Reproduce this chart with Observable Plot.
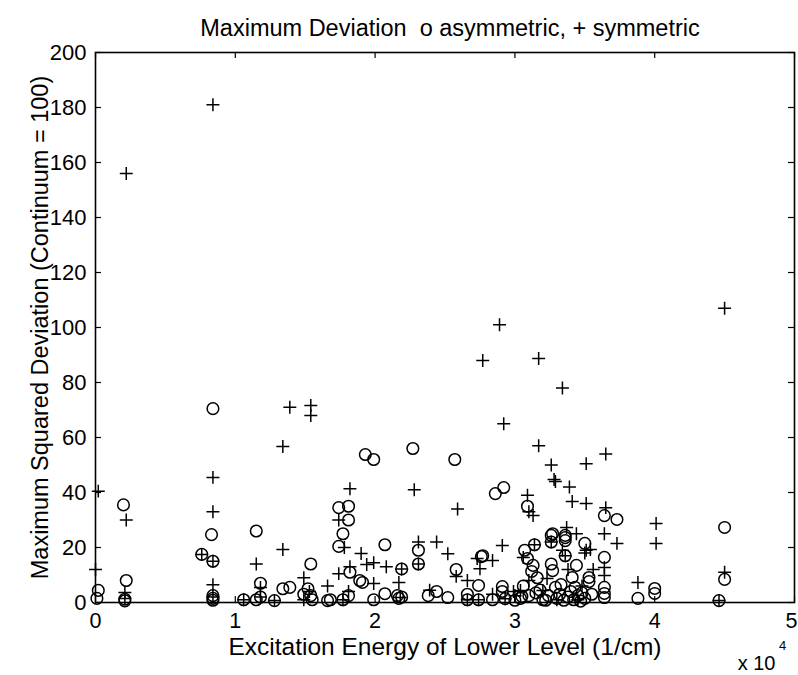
<!DOCTYPE html>
<html>
<head>
<meta charset="utf-8">
<script src="https://cdn.jsdelivr.net/npm/d3@7"></script>
<script src="https://cdn.jsdelivr.net/npm/@observablehq/plot@0.6"></script>
<style>
  html, body { margin: 0; padding: 0; background: #fff; }
  #chart svg { display: block; }
</style>
</head>
<body>
<div id="chart"></div>
<script>
// Excitation energy (units of 1e4 1/cm) and max squared deviation, asymmetric lines (o)
const asymX = [0.01,0.02,0.20,0.22,0.21,0.21,0.76,0.83,0.84,0.84,0.84,0.84,0.84,1.06,1.15,1.15,1.18,1.18,1.28,1.34,
  1.39,1.49,1.52,1.54,1.55,1.54,1.66,1.68,1.74,1.81,1.81,1.77,1.74,1.82,1.77,1.81,1.89,1.91,1.93,1.99,
  1.99,2.07,2.07,2.16,2.17,2.19,2.19,2.27,2.31,2.31,2.38,2.44,2.52,2.57,2.58,2.66,2.66,2.74,2.74,2.76,
  2.84,2.86,2.92,2.91,2.91,2.93,3.00,3.04,3.07,3.09,3.09,3.13,3.12,3.16,3.14,3.10,3.15,3.20,3.24,3.26,
  3.26,3.26,3.27,3.29,3.36,3.36,3.36,3.41,3.44,3.30,3.32,3.35,3.38,3.40,3.42,3.45,3.47,3.50,3.50,3.53,
  3.53,3.55,3.64,3.73,3.64,3.64,3.64,3.64,3.88,4.00,4.00,4.50,4.50,4.46,3.27,3.36,2.77,3.06,3.22,3.33,
  3.43,3.48,3.18,3.05];
const asymY = [1.5,4.4,35.5,8,1.2,0.6,17.5,24.7,70.5,15,2.5,1.5,0.8,1,26,1,7,2,0.7,5,
  5.5,3,5,14,1,2.5,0.7,1,34.5,35,30,25,20.4,11,1,2.5,8,7.3,53.8,52,
  1,21,3.2,2.5,1.5,2,12.2,56,19,14,2.5,4,1.8,52,12,3,1,6.2,1,16.7,
  1,39.6,41.8,5.8,4,1.4,0.8,1.5,19,35,16,13.5,11.3,9,21,2.5,3.5,1,2.5,24.4,
  22,14,11.6,5.5,24.4,22.5,17,9.1,13.5,1.5,3,0.8,2,4,1,2.5,0.5,21.5,1.5,9.1,
  7.6,3,31.6,30.2,16.4,5.5,3.3,1.8,1.5,5.1,3.3,27.3,8.4,0.7,25,23.6,17,6,0.8,6.5,
  5.5,3.5,4.5,2.2];

// symmetric lines (+)
const symX = [0.02,0.00,0.22,0.22,0.21,0.21,0.76,0.84,0.84,0.84,0.84,0.84,0.84,1.06,1.15,1.18,1.18,1.28,1.34,1.34,
  1.39,1.54,1.54,1.49,1.49,1.53,1.66,1.74,1.78,1.74,1.77,1.82,1.82,1.81,1.90,1.94,1.99,1.99,2.08,2.19,
  2.17,2.18,2.28,2.31,2.31,2.39,2.44,2.52,2.58,2.59,2.66,2.66,2.73,2.75,2.74,2.77,2.84,2.84,2.89,2.91,
  2.92,2.93,2.99,3.04,3.00,3.06,3.09,3.10,3.10,3.13,3.14,3.17,3.17,3.23,3.26,3.26,3.28,3.29,3.34,3.34,
  3.36,3.37,3.39,3.41,3.44,3.38,3.51,3.51,3.51,3.54,3.50,3.65,3.65,3.64,3.64,3.64,3.73,3.88,4.01,4.01,
  4.50,4.50,4.46,3.30,3.45,3.20,3.56,3.48];
const symY = [40.5,12,156,30,3.6,1.5,17.5,181,45.5,33,15,6.5,2,1,14,5.5,2,0.7,19.3,56.7,
  71,71.6,68,9,1,4,6,30,20,10.5,1,41.4,13,4,17.8,13.8,14.5,6.9,13,12.2,
  7.3,1.8,41,22,14,4.5,22,17.7,9.5,34,8,1,16,12.3,1,88,15.3,3,101,20.7,
  65,1.4,4,4.4,2.5,16.4,39,33,8,31.6,21,88.7,57,8.7,50,22,44.7,44,78,19,
  17,27.3,42,36.7,25,12,36,19,50.5,19.3,18,54,34.5,25,12.7,9.8,21.5,7.3,28.7,21.5,
  107,11,0.7,1,1,4.4,12,6];

const xTicks = [0, 1, 2, 3, 4, 5];
const yTicks = [0, 20, 40, 60, 80, 100, 120, 140, 160, 180, 200];

const titleText = "Maximum Deviation  o asymmetric, + symmetric";
const xLabel = "Excitation Energy of Lower Level (1/cm)";
const yLabel = "Maximum Squared Deviation (Continuum = 100)";
const expBase = "x 10";
const expPow = "4";

const asym = asymX.map((x, i) => ({x, y: asymY[i]}));
const sym = symX.map((x, i) => ({x, y: symY[i]}));

const W = 798, H = 675, mL = 95, mR = 4, mT = 52, mB = 73;
const pw = W - mL - mR, ph = H - mT - mB;
const tk = 6;
const lastX = xTicks[xTicks.length - 1];

const chart = Plot.plot({
  width: W, height: H,
  marginLeft: mL, marginRight: mR, marginTop: mT, marginBottom: mB,
  x: {domain: [0, 5]},
  y: {domain: [0, 200]},
  style: {fontFamily: "'Liberation Sans', Arial, Helvetica, sans-serif", fontSize: "22px", background: "white", color: "black"},
  marks: [
    Plot.axisX(xTicks.filter(d => d !== lastX), {tickSize: 0, tickPadding: 10, label: null, fontSize: 21.5, tickFormat: d => String(d)}),
    Plot.axisX([lastX], {tickSize: 0, tickPadding: 10, label: null, fontSize: 21.5, dx: -3, tickFormat: d => String(d)}),
    Plot.axisY(yTicks, {tickSize: 0, tickPadding: 9, label: null, fontSize: 22, tickFormat: d => String(d)}),
    Plot.tickX(xTicks, {x: d => d, insetTop: ph - tk, stroke: "black", strokeWidth: 1.2}),
    Plot.tickX(xTicks, {x: d => d, insetBottom: ph - tk, stroke: "black", strokeWidth: 1.2}),
    Plot.tickY(yTicks, {y: d => d, insetRight: pw - tk, stroke: "black", strokeWidth: 1.2}),
    Plot.tickY(yTicks, {y: d => d, insetLeft: pw - tk, stroke: "black", strokeWidth: 1.2}),
    Plot.dot(asym, {x: "x", y: "y", r: 5.8, symbol: "circle", stroke: "black", fill: "none", strokeWidth: 1.5}),
    Plot.dot(sym, {x: "x", y: "y", r: 4.25, symbol: "plus", stroke: "black", strokeWidth: 1.5}),
    Plot.frame({stroke: "black", strokeWidth: 1.6}),
    Plot.text([titleText], {text: d => d, frameAnchor: "top", lineAnchor: "middle", dy: -24, dx: 5, fontSize: 23.5, fill: "black"}),
    Plot.text([xLabel], {text: d => d, frameAnchor: "bottom", lineAnchor: "middle", dy: 45, fontSize: 24.5, fill: "black"}),
    Plot.text([yLabel], {text: d => d, frameAnchor: "left", textAnchor: "middle", lineAnchor: "middle", rotate: -90, dx: -55, fontSize: 23.5, fill: "black"}),
    Plot.text([expBase], {text: d => d, frameAnchor: "bottom-right", textAnchor: "end", lineAnchor: "middle", dx: -19, dy: 61, fontSize: 20, fill: "black"}),
    Plot.text([expPow], {text: d => d, frameAnchor: "bottom-right", textAnchor: "middle", lineAnchor: "middle", dx: -12, dy: 43, fontSize: 13, fill: "black"})
  ]
});
document.getElementById("chart").appendChild(chart);
</script>
</body>
</html>
